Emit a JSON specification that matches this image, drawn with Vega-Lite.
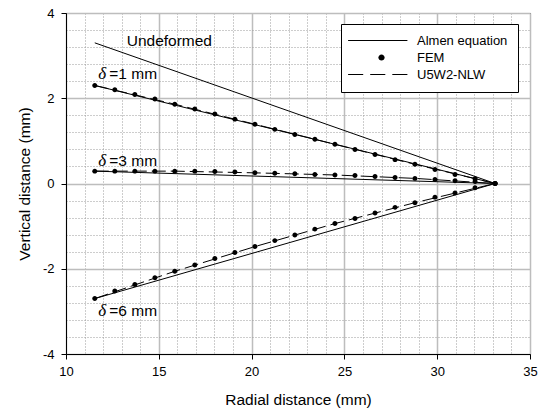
{
  "$schema": "https://vega.github.io/schema/vega-lite/v6.json",
  "autosize": "none",
  "width": 464,
  "height": 341,
  "padding": {"left": 66, "top": 13, "right": 9, "bottom": 57},
  "background": "white",
  "config": {
    "view": {"stroke": "black", "strokeWidth": 1},
    "axis": {
      "domainColor": "black",
      "tickColor": "black",
      "tickSize": 5,
      "labelFont": "Liberation Sans",
      "labelFontSize": 13,
      "labelColor": "black",
      "labelOverlap": false,
      "labelFlush": false,
      "titleFont": "Liberation Sans",
      "titleFontSize": 15.5,
      "titleFontWeight": "normal",
      "titleColor": "black",
      "grid": true,
      "gridOpacity": 1
    }
  },
  "datasets": {
    "curves": [
      {"case": "Undeformed", "model": "Undeformed", "r": 11.55, "z": 3.30},
      {"case": "Undeformed", "model": "Undeformed", "r": 33.12, "z": 0},

      {"case": "d1", "model": "Almen equation", "r": 11.55, "z": 2.30},
      {"case": "d1", "model": "Almen equation", "r": 33.12, "z": 0},
      {"case": "d3", "model": "Almen equation", "r": 11.55, "z": 0.29},
      {"case": "d3", "model": "Almen equation", "r": 33.12, "z": 0},
      {"case": "d6", "model": "Almen equation", "r": 11.55, "z": -2.70},
      {"case": "d6", "model": "Almen equation", "r": 33.12, "z": 0},

      {"case": "d1", "model": "FEM", "r": 11.55, "z": 2.30},
      {"case": "d1", "model": "FEM", "r": 12.63, "z": 2.20},
      {"case": "d1", "model": "FEM", "r": 13.71, "z": 2.09},
      {"case": "d1", "model": "FEM", "r": 14.79, "z": 1.98},
      {"case": "d1", "model": "FEM", "r": 15.86, "z": 1.86},
      {"case": "d1", "model": "FEM", "r": 16.94, "z": 1.75},
      {"case": "d1", "model": "FEM", "r": 18.02, "z": 1.63},
      {"case": "d1", "model": "FEM", "r": 19.10, "z": 1.51},
      {"case": "d1", "model": "FEM", "r": 20.18, "z": 1.39},
      {"case": "d1", "model": "FEM", "r": 21.25, "z": 1.27},
      {"case": "d1", "model": "FEM", "r": 22.33, "z": 1.15},
      {"case": "d1", "model": "FEM", "r": 23.41, "z": 1.04},
      {"case": "d1", "model": "FEM", "r": 24.49, "z": 0.92},
      {"case": "d1", "model": "FEM", "r": 25.57, "z": 0.80},
      {"case": "d1", "model": "FEM", "r": 26.65, "z": 0.68},
      {"case": "d1", "model": "FEM", "r": 27.73, "z": 0.56},
      {"case": "d1", "model": "FEM", "r": 28.80, "z": 0.45},
      {"case": "d1", "model": "FEM", "r": 29.88, "z": 0.33},
      {"case": "d1", "model": "FEM", "r": 30.96, "z": 0.21},
      {"case": "d1", "model": "FEM", "r": 32.04, "z": 0.11},
      {"case": "d1", "model": "FEM", "r": 33.12, "z": 0},

      {"case": "d3", "model": "FEM", "r": 11.55, "z": 0.29},
      {"case": "d3", "model": "FEM", "r": 12.63, "z": 0.29},
      {"case": "d3", "model": "FEM", "r": 13.71, "z": 0.29},
      {"case": "d3", "model": "FEM", "r": 14.79, "z": 0.29},
      {"case": "d3", "model": "FEM", "r": 15.86, "z": 0.29},
      {"case": "d3", "model": "FEM", "r": 16.94, "z": 0.29},
      {"case": "d3", "model": "FEM", "r": 18.02, "z": 0.28},
      {"case": "d3", "model": "FEM", "r": 19.10, "z": 0.27},
      {"case": "d3", "model": "FEM", "r": 20.18, "z": 0.25},
      {"case": "d3", "model": "FEM", "r": 21.25, "z": 0.24},
      {"case": "d3", "model": "FEM", "r": 22.33, "z": 0.23},
      {"case": "d3", "model": "FEM", "r": 23.41, "z": 0.21},
      {"case": "d3", "model": "FEM", "r": 24.49, "z": 0.20},
      {"case": "d3", "model": "FEM", "r": 25.57, "z": 0.19},
      {"case": "d3", "model": "FEM", "r": 26.65, "z": 0.165},
      {"case": "d3", "model": "FEM", "r": 27.73, "z": 0.14},
      {"case": "d3", "model": "FEM", "r": 28.80, "z": 0.12},
      {"case": "d3", "model": "FEM", "r": 29.88, "z": 0.094},
      {"case": "d3", "model": "FEM", "r": 30.96, "z": 0.065},
      {"case": "d3", "model": "FEM", "r": 32.04, "z": 0.045},
      {"case": "d3", "model": "FEM", "r": 33.12, "z": 0},

      {"case": "d6", "model": "FEM", "r": 11.55, "z": -2.70},
      {"case": "d6", "model": "FEM", "r": 12.63, "z": -2.52},
      {"case": "d6", "model": "FEM", "r": 13.71, "z": -2.37},
      {"case": "d6", "model": "FEM", "r": 14.79, "z": -2.21},
      {"case": "d6", "model": "FEM", "r": 15.86, "z": -2.06},
      {"case": "d6", "model": "FEM", "r": 16.94, "z": -1.91},
      {"case": "d6", "model": "FEM", "r": 18.02, "z": -1.76},
      {"case": "d6", "model": "FEM", "r": 19.10, "z": -1.62},
      {"case": "d6", "model": "FEM", "r": 20.18, "z": -1.48},
      {"case": "d6", "model": "FEM", "r": 21.25, "z": -1.34},
      {"case": "d6", "model": "FEM", "r": 22.33, "z": -1.21},
      {"case": "d6", "model": "FEM", "r": 23.41, "z": -1.07},
      {"case": "d6", "model": "FEM", "r": 24.49, "z": -0.94},
      {"case": "d6", "model": "FEM", "r": 25.57, "z": -0.82},
      {"case": "d6", "model": "FEM", "r": 26.65, "z": -0.69},
      {"case": "d6", "model": "FEM", "r": 27.73, "z": -0.56},
      {"case": "d6", "model": "FEM", "r": 28.80, "z": -0.45},
      {"case": "d6", "model": "FEM", "r": 29.88, "z": -0.32},
      {"case": "d6", "model": "FEM", "r": 30.96, "z": -0.22},
      {"case": "d6", "model": "FEM", "r": 32.04, "z": -0.10},
      {"case": "d6", "model": "FEM", "r": 33.12, "z": 0},

      {"case": "d1", "model": "U5W2-NLW", "r": 11.55, "z": 2.30},
      {"case": "d1", "model": "U5W2-NLW", "r": 15.86, "z": 1.86},
      {"case": "d1", "model": "U5W2-NLW", "r": 20.18, "z": 1.39},
      {"case": "d1", "model": "U5W2-NLW", "r": 24.49, "z": 0.92},
      {"case": "d1", "model": "U5W2-NLW", "r": 28.80, "z": 0.45},
      {"case": "d1", "model": "U5W2-NLW", "r": 33.12, "z": 0},
      {"case": "d3", "model": "U5W2-NLW", "r": 11.55, "z": 0.29},
      {"case": "d3", "model": "U5W2-NLW", "r": 15.86, "z": 0.29},
      {"case": "d3", "model": "U5W2-NLW", "r": 20.18, "z": 0.25},
      {"case": "d3", "model": "U5W2-NLW", "r": 24.49, "z": 0.20},
      {"case": "d3", "model": "U5W2-NLW", "r": 28.80, "z": 0.12},
      {"case": "d3", "model": "U5W2-NLW", "r": 33.12, "z": 0},
      {"case": "d6", "model": "U5W2-NLW", "r": 11.55, "z": -2.70},
      {"case": "d6", "model": "U5W2-NLW", "r": 15.86, "z": -2.06},
      {"case": "d6", "model": "U5W2-NLW", "r": 20.18, "z": -1.48},
      {"case": "d6", "model": "U5W2-NLW", "r": 24.49, "z": -0.94},
      {"case": "d6", "model": "U5W2-NLW", "r": 28.80, "z": -0.45},
      {"case": "d6", "model": "U5W2-NLW", "r": 33.12, "z": 0}
    ],
    "deltaLabels": [
      {"sym": "δ", "rest": "=1 mm", "r": 11.74, "z": 2.45},
      {"sym": "δ", "rest": "=3 mm", "r": 11.74, "z": 0.42},
      {"sym": "δ", "rest": "=6 mm", "r": 11.74, "z": -3.12}
    ],
    "plainLabels": [
      {"label": "Undeformed", "r": 13.27, "z": 3.23}
    ]
  },
  "data": {"name": "curves"},
  "layer": [
    {
      "transform": [{"filter": "datum.model === 'Almen equation' || datum.model === 'Undeformed'"}],
      "mark": {"type": "line", "color": "black", "strokeWidth": 1},
      "encoding": {
        "x": {
          "field": "r", "type": "quantitative",
          "scale": {"domain": [10, 35], "nice": false, "zero": false},
          "axis": {
            "title": "Radial distance (mm)",
            "values": [10, 11, 12, 13, 14, 15, 16, 17, 18, 19, 20, 21, 22, 23, 24, 25, 26, 27, 28, 29, 30, 31, 32, 33, 34, 35],
            "tickCount": 1000,
            "labelExpr": "datum.value % 5 === 0 ? '' + datum.value : ''",
            "labelPadding": 6,
            "titlePadding": 14,
            "tickOpacity": {"condition": {"test": "datum.value % 5 === 0", "value": 1}, "value": 0},
            "gridColor": {"condition": {"test": "datum.value % 5 === 0", "value": "#bdbdbd"}, "value": "#9a9a9a"},
            "gridDash": {"condition": {"test": "datum.value % 5 === 0", "value": [1, 0]}, "value": [1, 2]},
            "gridWidth": {"condition": {"test": "datum.value % 5 === 0", "value": 1.5}, "value": 1}
          }
        },
        "y": {
          "field": "z", "type": "quantitative",
          "scale": {"domain": [-4, 4], "nice": false, "zero": false},
          "axis": {
            "title": "Vertical distance (mm)",
            "values": [-4, -3.6, -3.2, -2.8, -2.4, -2, -1.6, -1.2, -0.8, -0.4, 0, 0.4, 0.8, 1.2, 1.6, 2, 2.4, 2.8, 3.2, 3.6, 4],
            "tickCount": 1000,
            "labelExpr": "datum.value % 2 === 0 ? '' + datum.value : ''",
            "labelPadding": 7,
            "titlePadding": 10,
            "tickOpacity": {"condition": {"test": "datum.value % 2 === 0", "value": 1}, "value": 0},
            "gridColor": {"condition": {"test": "datum.value % 2 === 0", "value": "#bdbdbd"}, "value": "#9a9a9a"},
            "gridDash": {"condition": {"test": "datum.value % 2 === 0", "value": [1, 0]}, "value": [1, 2]},
            "gridWidth": {"condition": {"test": "datum.value % 2 === 0", "value": 1.5}, "value": 1}
          }
        },
        "detail": {"field": "case"}
      }
    },
    {
      "transform": [{"filter": "datum.model === 'U5W2-NLW'"}],
      "mark": {"type": "line", "color": "black", "strokeWidth": 1, "strokeDash": [14, 5]},
      "encoding": {
        "x": {"field": "r", "type": "quantitative"},
        "y": {"field": "z", "type": "quantitative"},
        "detail": {"field": "case"}
      }
    },
    {
      "transform": [{"filter": "datum.model === 'FEM'"}],
      "mark": {"type": "point", "filled": true, "color": "black", "opacity": 1, "size": 64},
      "encoding": {
        "x": {"field": "r", "type": "quantitative"},
        "y": {"field": "z", "type": "quantitative"},
        "shape": {
          "field": "model", "type": "nominal",
          "scale": {
            "domain": ["Almen equation", "FEM", "U5W2-NLW"],
            "range": [
              "M-6.68,-0.12H5.18V0.12H-6.68Z",
              "M-0.62,0A0.62,0.62 0 1,1 0.62,0A0.62,0.62 0 1,1 -0.62,0Z",
              "M-6.68,-0.12H-3.66V0.12H-6.68ZM-2.26,-0.12H0.76V0.12H-2.26ZM2.16,-0.12H5.18V0.12H2.16Z"
            ]
          },
          "legend": {
            "title": null,
            "orient": "none",
            "legendX": 275,
            "legendY": 11,
            "strokeColor": "black",
            "fillColor": "white",
            "padding": 10,
            "rowPadding": 3,
            "symbolOffset": 24,
            "labelOffset": 29,
            "labelFont": "Liberation Sans",
            "labelFontSize": 13,
            "labelColor": "black"
          }
        }
      }
    },
    {
      "data": {"name": "deltaLabels"},
      "mark": {"type": "text", "align": "left", "baseline": "alphabetic", "font": "Liberation Serif", "fontStyle": "italic", "fontSize": 17, "color": "black"},
      "encoding": {
        "x": {"field": "r", "type": "quantitative"},
        "y": {"field": "z", "type": "quantitative"},
        "text": {"field": "sym"}
      }
    },
    {
      "data": {"name": "deltaLabels"},
      "mark": {"type": "text", "align": "left", "baseline": "alphabetic", "font": "Liberation Sans", "fontSize": 15.5, "dx": 11, "color": "black"},
      "encoding": {
        "x": {"field": "r", "type": "quantitative"},
        "y": {"field": "z", "type": "quantitative"},
        "text": {"field": "rest"}
      }
    },
    {
      "data": {"name": "plainLabels"},
      "mark": {"type": "text", "align": "left", "baseline": "alphabetic", "font": "Liberation Sans", "fontSize": 15.5, "color": "black"},
      "encoding": {
        "x": {"field": "r", "type": "quantitative"},
        "y": {"field": "z", "type": "quantitative"},
        "text": {"field": "label"}
      }
    }
  ]
}
